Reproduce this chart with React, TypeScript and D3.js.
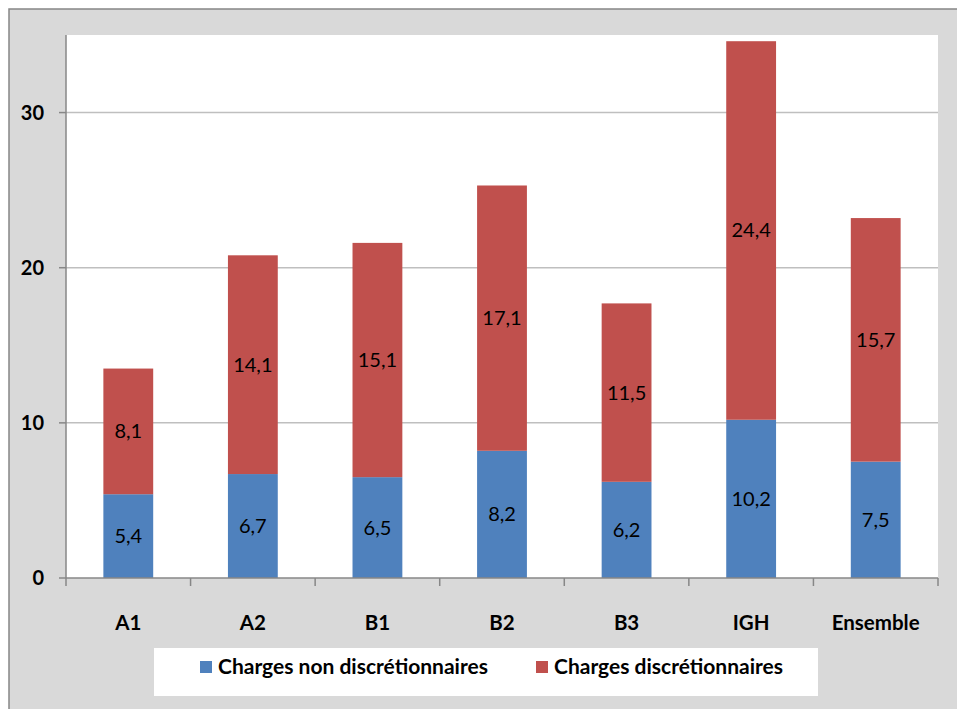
import React from "react";
import * as d3 from "d3";

const categories = ["A1", "A2", "B1", "B2", "B3", "IGH", "Ensemble"];
const nonDiscretionary = [5.4, 6.7, 6.5, 8.2, 6.2, 10.2, 7.5];
const discretionary = [8.1, 14.1, 15.1, 17.1, 11.5, 24.4, 15.7];
const yTicks = [0, 10, 20, 30];
const seriesNames = ["Charges non discrétionnaires", "Charges discrétionnaires"];
const seriesColors = ["#4f81bd", "#c0504d"];

const W = 957;
const H = 709;
const plot = { left: 66, right: 938, top: 35, bottom: 578 };
const FONT = "Lato, 'Open Sans', sans-serif";

export default function App() {
  const x = d3
    .scaleBand<string>()
    .domain(categories)
    .range([plot.left, plot.right])
    .paddingInner(0.6)
    .paddingOuter(0.3);
  const band = d3.scaleBand<string>().domain(categories).range([plot.left, plot.right]);
  const y = d3.scaleLinear().domain([0, 35]).range([plot.bottom, plot.top]);

  const rows = categories.map((c, i) => ({ cat: c, nd: nonDiscretionary[i], d: discretionary[i] }));
  const stack = d3.stack<any>().keys(["nd", "d"])(rows);
  const fmt = (v: number) => v.toFixed(1).replace(".", ",");

  const boundaries = d3.range(categories.length + 1).map((i) =>
    i < categories.length ? (band(categories[i]) as number) : plot.right
  );

  return (
    <svg
      width={W}
      height={H}
      style={{ position: "absolute", left: 0, top: 0, display: "block" }}
      fontFamily={FONT}
    >
      <rect x={0} y={0} width={W} height={H} fill="#ffffff" />
      <rect x={9} y={9} width={W + 10} height={H + 10} fill="#d9d9d9" stroke="#878787" strokeWidth={1.5} />
      <rect x={plot.left} y={plot.top} width={plot.right - plot.left} height={plot.bottom - plot.top} fill="#ffffff" />

      {yTicks.filter((t) => t > 0).map((t) => (
        <line key={"g" + t} x1={plot.left} x2={plot.right} y1={y(t)} y2={y(t)} stroke="#bfbfbf" strokeWidth={1.5} />
      ))}

      {stack.map((s, si) =>
        s.map((d, i) => {
          const x0 = x(categories[i]) as number;
          const y0 = y(d[1]);
          const y1 = y(d[0]);
          return (
            <g key={si + "-" + i}>
              <rect x={x0} y={y0} width={x.bandwidth()} height={y1 - y0} fill={seriesColors[si]} />
              <text
                x={x0 + x.bandwidth() / 2}
                y={(y0 + y1) / 2}
                dy="0.35em"
                textAnchor="middle"
                fontSize={20}
                fill="#000"
              >
                {fmt(d[1] - d[0])}
              </text>
            </g>
          );
        })
      )}

      <line x1={plot.left} x2={plot.left} y1={plot.top} y2={plot.bottom} stroke="#878787" strokeWidth={1.5} />
      <line x1={plot.left} x2={plot.right} y1={plot.bottom} y2={plot.bottom} stroke="#878787" strokeWidth={1.5} />

      {yTicks.map((t) => (
        <g key={"t" + t}>
          <line x1={plot.left - 7} x2={plot.left} y1={y(t)} y2={y(t)} stroke="#878787" strokeWidth={1.5} />
          <text x={44} y={y(t)} dy="0.36em" textAnchor="end" fontSize={20} fontWeight="bold" fill="#000">
            {t}
          </text>
        </g>
      ))}

      {boundaries.map((bx, i) => (
        <line key={"xt" + i} x1={bx} x2={bx} y1={plot.bottom} y2={plot.bottom + 8} stroke="#878787" strokeWidth={1.5} />
      ))}
      {categories.map((c) => (
        <text
          key={"c" + c}
          x={(band(c) as number) + band.bandwidth() / 2}
          y={623}
          dy="0.35em"
          textAnchor="middle"
          fontSize={20.5}
          fontWeight="bold"
          fill="#000"
        >
          {c}
        </text>
      ))}

      <rect x={154} y={648} width={664} height={48} fill="#ffffff" />
      {seriesNames.map((n, i) => {
        const lx = i === 0 ? 200 : 536;
        return (
          <g key={"l" + i}>
            <rect x={lx} y={661} width={12} height={12} fill={seriesColors[i]} />
            <text x={lx + 18} y={674} dy="0.02em" fontSize={21} fontWeight="bold" fill="#000">
              {n}
            </text>
          </g>
        );
      })}
    </svg>
  );
}
